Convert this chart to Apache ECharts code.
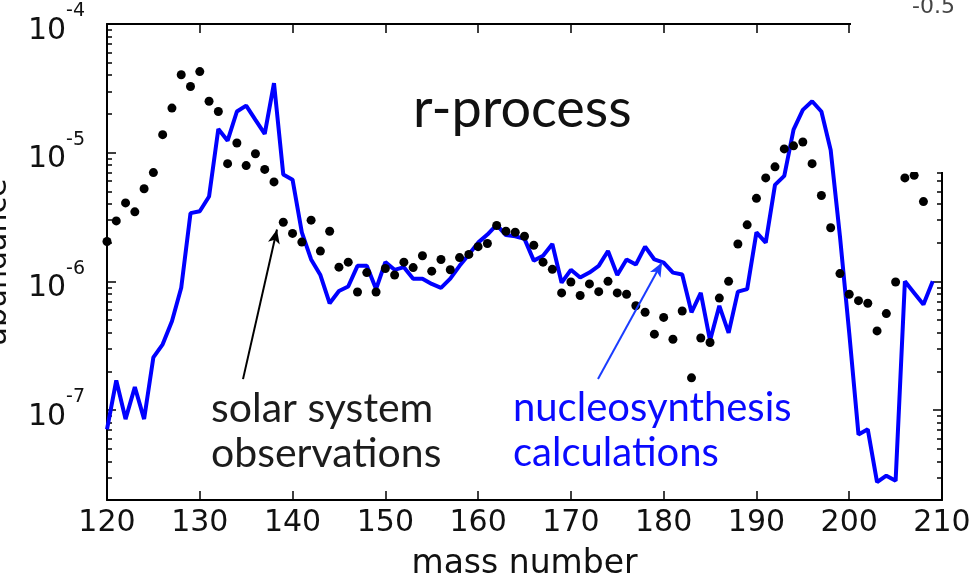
<!DOCTYPE html>
<html>
<head>
<meta charset="utf-8">
<script src="https://cdn.jsdelivr.net/npm/echarts@6/dist/echarts.min.js"></script>
<style>
  html, body { margin: 0; padding: 0; background: #ffffff; }
  #chart { width: 979px; height: 586px; }
</style>
</head>
<body>
<div id="chart"></div>
<script>
// Solar-system r-process abundances (dots), per mass number
const solarMass = [
  120,121,122,123,124,125,126,127,128,129,130,131,132,133,134,135,136,137,138,139,
  140,141,142,143,144,145,146,147,148,149,150,151,152,153,154,155,156,157,158,159,
  160,161,162,163,164,165,166,167,168,169,170,171,172,173,174,175,176,177,178,179,
  180,181,182,183,184,185,186,187,188,189,190,191,192,193,194,195,196,197,198,199,
  200,201,202,203,204,205,206,207,208
];
const solarAbundance = [
  2.04e-6,2.95e-6,4.07e-6,3.47e-6,5.25e-6,7.0e-6,1.38e-5,2.22e-5,4.03e-5,3.27e-5,
  4.27e-5,2.51e-5,2.09e-5,8.22e-6,1.19e-5,7.94e-6,9.82e-6,7.41e-6,5.93e-6,2.88e-6,
  2.36e-6,2.02e-6,2.99e-6,1.72e-6,2.45e-6,1.29e-6,1.41e-6,8.26e-7,1.17e-6,8.26e-7,
  1.26e-6,1.12e-6,1.41e-6,1.28e-6,1.58e-6,1.20e-6,1.48e-6,1.23e-6,1.53e-6,1.62e-6,
  1.86e-6,1.97e-6,2.72e-6,2.45e-6,2.41e-6,2.24e-6,1.91e-6,1.41e-6,1.24e-6,8.13e-7,
  9.89e-7,7.76e-7,9.55e-7,8.32e-7,1.0e-6,8.13e-7,7.94e-7,6.46e-7,5.75e-7,3.89e-7,
  5.25e-7,3.55e-7,5.89e-7,1.78e-7,3.63e-7,3.35e-7,7.41e-7,1.0e-6,1.95e-6,2.75e-6,
  4.42e-6,6.37e-6,7.76e-6,1.07e-5,1.13e-5,1.21e-5,8.22e-6,4.65e-6,2.61e-6,1.15e-6,
  7.94e-7,7.08e-7,6.76e-7,4.12e-7,5.62e-7,9.89e-7,6.37e-6,6.67e-6,4.17e-6
];

// Nucleosynthesis calculation (blue line), per mass number
const calcMass = [
  120,121,122,123,124,125,126,127,128,129,130,131,132,133,134,135,136,137,138,139,
  140,141,142,143,144,145,146,147,148,149,150,151,152,153,154,155,156,157,158,159,
  160,161,162,163,164,165,166,167,168,169,170,171,172,173,174,175,176,177,178,179,
  180,181,182,183,184,185,186,187,188,189,190,191,192,193,194,195,196,197,198,199,
  200,201,202,203,204,205,206,207,208,209
];
const calcAbundance = [
  7.08e-8,1.70e-7,8.51e-8,1.51e-7,8.51e-8,2.57e-7,3.24e-7,4.90e-7,8.91e-7,3.39e-6,
  3.51e-6,4.57e-6,1.53e-5,1.24e-5,2.09e-5,2.32e-5,1.80e-5,1.40e-5,3.47e-5,6.76e-6,
  6.17e-6,2.40e-6,1.48e-6,1.12e-6,6.76e-7,8.41e-7,9.12e-7,1.32e-6,1.32e-6,8.71e-7,
  1.41e-6,1.23e-6,1.29e-6,1.05e-6,1.05e-6,9.55e-7,8.91e-7,1.05e-6,1.32e-6,1.62e-6,
  2.0e-6,2.31e-6,2.75e-6,2.29e-6,2.24e-6,2.14e-6,1.45e-6,1.58e-6,1.95e-6,9.77e-7,
  1.23e-6,1.07e-6,1.17e-6,1.32e-6,1.72e-6,1.12e-6,1.48e-6,1.35e-6,1.86e-6,1.48e-6,
  1.40e-6,1.17e-6,1.13e-6,5.75e-7,8.13e-7,3.47e-7,6.46e-7,3.98e-7,8.32e-7,8.71e-7,
  2.40e-6,2.0e-6,5.62e-6,6.61e-6,1.51e-5,2.15e-5,2.51e-5,2.09e-5,1.05e-5,2.24e-6,
  3.98e-7,6.46e-8,7.08e-8,2.75e-8,3.09e-8,2.82e-8,1.0e-6,8.13e-7,6.61e-7,1.0e-6
];

// Axis ticks
const xTicks = [120,130,140,150,160,170,180,190,200,210];
const yMajorTicks = [1e-7,1e-6,1e-5,1e-4];
const yMinorTicks = [
  3e-8,4e-8,5e-8,6e-8,7e-8,8e-8,9e-8,
  2e-7,3e-7,4e-7,5e-7,6e-7,7e-7,8e-7,9e-7,
  2e-6,3e-6,4e-6,5e-6,6e-6,7e-6,8e-6,9e-6,
  2e-5,3e-5,4e-5,5e-5,6e-5,7e-5,8e-5,9e-5
];

// Annotation arrows: [tail, head] in (mass number, abundance)
const solarArrow = [[134.66, 1.74e-7], [138.32, 2.53e-6]];
const calcArrow  = [[172.92, 1.74e-7], [179.82, 1.40e-6]];

const solarPoints = solarMass.map((m, i) => [m, solarAbundance[i]]);
const calcPoints = calcMass.map((m, i) => [m, calcAbundance[i]]);

const labelFont = 'DejaVu Sans';
const noteFont = 'Lato';

function xAxisBase(pos) {
  return {
    type: 'value', min: 120, max: 210, interval: 10, position: pos,
    splitLine: { show: false },
    axisLine: { show: true, onZero: false, lineStyle: { color: '#000', width: 2 } },
    axisTick: { show: true, inside: true, length: 9, customValues: xTicks,
                lineStyle: { color: '#000', width: 1.5 } }
  };
}

function yAxisBase(pos, ticks, len, withLine) {
  return {
    type: 'log', logBase: 10, min: 2e-8, max: 1e-4, position: pos,
    splitLine: { show: false },
    axisLine: { show: withLine, onZero: false, lineStyle: { color: '#000', width: 2 } },
    axisTick: { show: true, inside: true, length: len, customValues: ticks,
                lineStyle: { color: '#000', width: 1.5 } },
    axisLabel: { show: false }
  };
}

const leftMajor = yAxisBase('left', yMajorTicks, 9, true);
leftMajor.axisLabel = {
  show: true,
  customValues: yMajorTicks,
  margin: 22,
  formatter: v => '{b|10}{s|-' + Math.abs(Math.round(Math.log10(v))) + '}',
  rich: {
    b: { fontFamily: labelFont, fontSize: 30, color: '#111', padding: [14, 0, 0, 0] },
    s: { fontFamily: labelFont, fontSize: 19, color: '#111', verticalAlign: 'top' }
  }
};
leftMajor.name = 'abundance';
leftMajor.nameLocation = 'middle';
leftMajor.nameGap = 94;
leftMajor.nameTextStyle = { fontFamily: labelFont, fontSize: 30, color: '#111' };

const chart = echarts.init(document.getElementById('chart'), null, { renderer: 'canvas' });

chart.setOption({
  animation: false,
  backgroundColor: '#ffffff',
  grid: { left: 107, right: 37, top: 24, bottom: 86, containLabel: false, outerBoundsMode: 'none' },
  xAxis: [
    Object.assign(xAxisBase('bottom'), {
      name: 'mass number', nameLocation: 'middle', nameGap: 48,
      nameTextStyle: { fontFamily: labelFont, fontSize: 33, color: '#111' },
      axisLabel: { show: true, margin: 8, fontFamily: labelFont, fontSize: 30, color: '#111' }
    }),
    Object.assign(xAxisBase('top'), { axisLabel: { show: false } })
  ],
  // positions are resolved in order: left, right, then flipped to the free side
  yAxis: [
    leftMajor,
    yAxisBase('right', yMajorTicks, 9, true),
    yAxisBase('right', yMinorTicks, 5, false),
    yAxisBase('left', yMinorTicks, 5, false)
  ],
  series: [
    {
      name: 'nucleosynthesis calculations',
      type: 'line',
      data: calcPoints,
      showSymbol: false,
      symbol: 'none',
      lineStyle: { color: '#0000ff', width: 4 },
      clip: true,
      z: 3
    },
    {
      name: 'solar system observations',
      type: 'scatter',
      data: solarPoints,
      symbol: 'circle',
      symbolSize: 9,
      itemStyle: { color: '#000', opacity: 1 },
      clip: true,
      z: 4,
      markLine: {
        silent: true,
        symbol: ['none', 'arrow'],
        symbolSize: [9, 14],
        label: { show: false },
        data: [
          [{ coord: solarArrow[0], lineStyle: { color: '#000', width: 2, type: 'solid' } },
           { coord: solarArrow[1] }],
          [{ coord: calcArrow[0], lineStyle: { color: '#1a3cff', width: 2, type: 'solid' } },
           { coord: calcArrow[1] }]
        ]
      }
    }
  ],
  graphic: {
    elements: [
      {
        type: 'text', left: 413, top: 83, z: 10,
        style: { text: 'r-process', font: '54px ' + noteFont, fill: '#111' }
      },
      {
        type: 'text', left: 211, top: 386, z: 10,
        style: { text: 'solar system\nobservations', font: '41px ' + noteFont, fill: '#1c1c1c', lineHeight: 45 }
      },
      {
        type: 'text', left: 513, top: 386, z: 10,
        style: { text: 'nucleosynthesis\ncalculations', font: '40px ' + noteFont, fill: '#0a0aff', lineHeight: 45 }
      },
      {
        type: 'group', z: 50,
        children: [
          {
            type: 'rect', z: 50,
            shape: { x: 851, y: 0, width: 128, height: 172 },
            style: { fill: '#ffffff' }
          },
          {
            type: 'text', z: 60, x: 912, y: -4,
            style: { text: '-0.5', font: '22px "DejaVu Sans"', fill: '#444',
                     align: 'left', verticalAlign: 'top' }
          }
        ]
      }
    ]
  }
});
</script>
</body>
</html>
